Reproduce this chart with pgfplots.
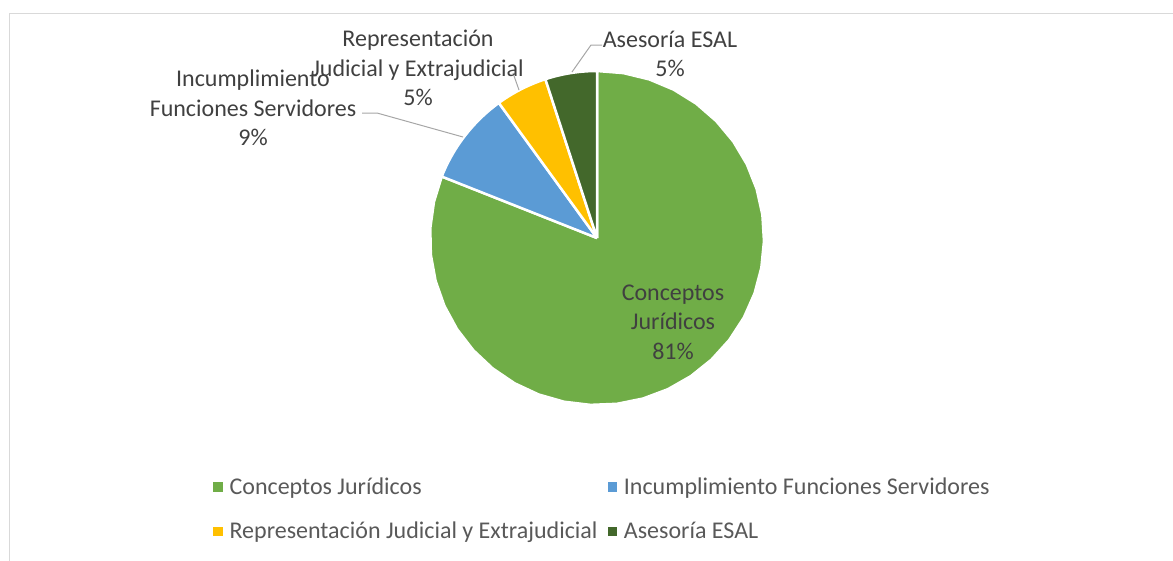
\documentclass[border=0pt]{standalone}
\usepackage{pgfplots}
\pgfplotsset{compat=1.18}
\usepackage{fontspec}
\setmainfont{Carlito}
\definecolor{cConc}{HTML}{70AD47}
\definecolor{cInc}{HTML}{5B9BD5}
\definecolor{cRep}{HTML}{FFC000}
\definecolor{cAse}{HTML}{43682B}
\definecolor{labtxt}{HTML}{404040}
\definecolor{legtxt}{HTML}{595959}
\definecolor{leader}{HTML}{A6A6A6}
\definecolor{frame}{HTML}{D9D9D9}
% values (percent)
\def\vConc{81}
\def\vInc{9}
\def\vRep{5}
\def\vAse{5}
% pie geometry in pixel coordinates
\def\cx{597}
\def\cy{238}
\def\rr{167}
\newcommand{\pieslice}[3]{% start angle, end angle, colour
  \addplot[forget plot, fill=#3, draw=white, line width=2.5pt, line join=round,
    variable=\t, samples at={-1,0,0.03125,...,1,2}]
  ({\cx+\rr*(\t>-0.5)*(\t<1.5)*cos(#1+(#2-#1)*\t)},
   {\cy-\rr*(\t>-0.5)*(\t<1.5)*sin(#1+(#2-#1)*\t)});
}
\begin{document}
\begin{tikzpicture}
\useasboundingbox (0,-561pt) rectangle (1173pt,0pt);
\begin{axis}[
  at={(0,0)}, anchor=origin,
  x=1pt, y=1pt, y dir=reverse,
  xmin=0, xmax=1173, ymin=0, ymax=561,
  hide axis, clip=false,
  legend columns=2,
  legend cell align=left,
  legend style={at={(axis cs:213,509)}, anchor=west, draw=none, fill=none,
    inner sep=0pt, nodes={inner sep=0pt, text=legtxt},
    font=\fontsize{24}{29}\selectfont,
    column sep=7.5pt, row sep=26pt,
    /tikz/every even column/.append style={column sep=10pt}},
]
\draw[frame, line width=1pt] (axis cs:9,13) rectangle (axis cs:1200,600);
\pgfmathsetmacro{\aA}{90}
\pgfmathsetmacro{\aB}{90-3.6*\vConc}
\pgfmathsetmacro{\aC}{\aB-3.6*\vInc}
\pgfmathsetmacro{\aD}{\aC-3.6*\vRep}
\pgfmathsetmacro{\aE}{\aD-3.6*\vAse}
\pieslice{\aA}{\aB}{cConc}
\pieslice{\aB}{\aC}{cInc}
\pieslice{\aC}{\aD}{cRep}
\pieslice{\aD}{\aE}{cAse}
% leader lines
\draw[leader, line width=1pt] (axis cs:602,45) -- (axis cs:591,45) -- (axis cs:572,72);
\draw[leader, line width=1pt] (axis cs:513,73) -- (axis cs:519,90);
\draw[leader, line width=1pt] (axis cs:362,113) -- (axis cs:377,113) -- (axis cs:463,137);
% data labels
\begin{scope}[every node/.style={align=center, text=labtxt, font=\fontsize{24}{29.5}\selectfont, inner sep=0pt}]
\node at (axis cs:673,322) {Conceptos\\Jurídicos\\81\%};
\node at (axis cs:253,108) {Incumplimiento\\Funciones Servidores\\9\%};
\node at (axis cs:418,68) {Representación\\Judicial y Extrajudicial\\5\%};
\node at (axis cs:670,54) {Asesoría ESAL\\5\%};
\end{scope}
% legend
\addlegendimage{legend image code/.code={\fill[cConc] (0pt,-4.25pt) rectangle (8.5pt,4.25pt);}}
\addlegendentry{Conceptos Jurídicos}
\addlegendimage{legend image code/.code={\fill[cInc] (0pt,-4.25pt) rectangle (8.5pt,4.25pt);}}
\addlegendentry{Incumplimiento Funciones Servidores}
\addlegendimage{legend image code/.code={\fill[cRep] (0pt,-4.25pt) rectangle (8.5pt,4.25pt);}}
\addlegendentry{Representación Judicial y Extrajudicial}
\addlegendimage{legend image code/.code={\fill[cAse] (0pt,-4.25pt) rectangle (8.5pt,4.25pt);}}
\addlegendentry{Asesoría ESAL}
\end{axis}
\end{tikzpicture}
\end{document}
